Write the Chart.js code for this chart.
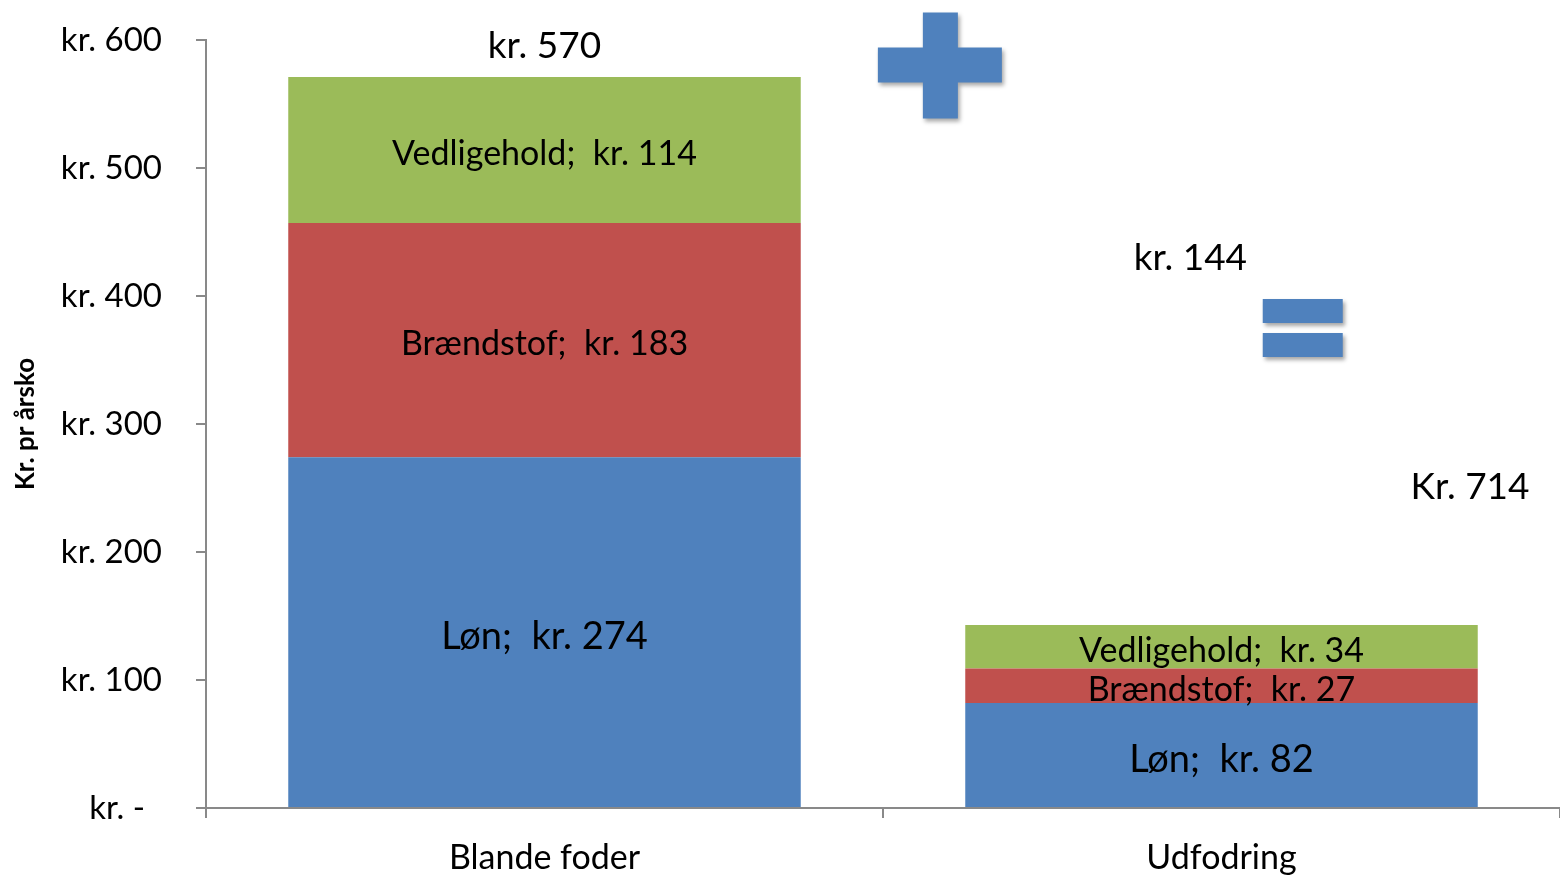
<!DOCTYPE html>
<html lang="da">
<head>
<meta charset="utf-8">
<title>Omkostninger pr årsko</title>
<script src="https://cdn.jsdelivr.net/npm/chart.js@4"></script>
<style>
    body { margin: 0; background: #fff; }
    #wrap { width: 1560px; height: 876px; }
</style>
</head>
<body>
<div id="wrap"><canvas id="grafiek" width="1560" height="876"></canvas></div>
<script>
// ===============================
// Data
// ===============================
const kategorier = ["Blande foder", "Udfodring"];
const serieNavne = ["Løn", "Brændstof", "Vedligehold"];
const loen = [274, 82];
const braendstof = [183, 27];
const vedligehold = [114, 34];
const totaler = [570, 144];
const samletTotal = 714;
const yMin = 0;
const yMax = 600;
const yStap = 100;

const kleuren = ["#4F81BD", "#C0504D", "#9BBB59"];
const asKleur = "#898989";
const lettertype = "Lato";

// vrije tekst / symbolen, geplaatst in schaal-coordinaten (x = categorie-index, y = waarde)
const plusPos = { x: 0.584, y: 580 };
const isPos = { x: 1.12, y: 375 };
const tekst144Pos = { x: 0.954, y: 430 };
const tekst714Pos = { x: 1.367, y: 251 };

// ===============================
// Plugin: labels in de balken + extra tekst
// ===============================
const labelPlugin = {
    id: "labelPlugin",
    afterDatasetsDraw(chart) {
        const ctx = chart.ctx;
        const xs = chart.scales.x;
        const ys = chart.scales.y;
        ctx.save();
        ctx.fillStyle = "#000";
        ctx.textAlign = "center";
        ctx.textBaseline = "middle";

        chart.data.datasets.forEach((ds, i) => {
            const meta = chart.getDatasetMeta(i);
            meta.data.forEach((bar, j) => {
                const p = bar.getProps(["x", "y", "base"], true);
                const grootte = i === 0 ? 38 : 34;
                ctx.font = grootte + "px " + lettertype;
                ctx.fillText(ds.label + ";  kr. " + ds.data[j], p.x, (p.y + p.base) / 2 + (i === 0 ? 5 : 4));
            });
        });

        // totaal boven eerste balk
        const top = chart.getDatasetMeta(2).data[0];
        ctx.font = "37px " + lettertype;
        ctx.fillText("kr. " + totaler[0], top.x, top.y - 31);

        // vrije teksten
        ctx.fillText("kr. " + totaler[1], xs.getPixelForValue(tekst144Pos.x), ys.getPixelForValue(tekst144Pos.y));
        ctx.fillText("Kr. " + samletTotal, xs.getPixelForValue(tekst714Pos.x), ys.getPixelForValue(tekst714Pos.y));

        // plus en is-teken met schaduw
        ctx.shadowColor = "rgba(0,0,0,0.35)";
        ctx.shadowBlur = 4;
        ctx.shadowOffsetX = 2;
        ctx.shadowOffsetY = 3;
        ctx.fillStyle = kleuren[0];

        const px = xs.getPixelForValue(plusPos.x);
        const py = ys.getPixelForValue(plusPos.y);
        ctx.beginPath();
        ctx.moveTo(px - 17, py - 53);
        ctx.lineTo(px + 18, py - 53);
        ctx.lineTo(px + 18, py - 18);
        ctx.lineTo(px + 62, py - 18);
        ctx.lineTo(px + 62, py + 17);
        ctx.lineTo(px + 18, py + 17);
        ctx.lineTo(px + 18, py + 53);
        ctx.lineTo(px - 17, py + 53);
        ctx.lineTo(px - 17, py + 17);
        ctx.lineTo(px - 62, py + 17);
        ctx.lineTo(px - 62, py - 18);
        ctx.lineTo(px - 17, py - 18);
        ctx.closePath();
        ctx.fill();

        const ix = xs.getPixelForValue(isPos.x);
        const iy = ys.getPixelForValue(isPos.y);
        ctx.fillRect(ix - 40, iy - 29, 80, 24);
        ctx.fillRect(ix - 40, iy + 5, 80, 24);

        ctx.restore();
    }
};

// ===============================
// Grafiek
// ===============================
Chart.defaults.font.family = lettertype;
Chart.defaults.color = "#000";

const reeksen = [loen, braendstof, vedligehold];

new Chart(document.getElementById("grafiek").getContext("2d"), {
    type: "bar",
    data: {
        labels: kategorier,
        datasets: serieNavne.map((naam, i) => ({
            label: naam,
            data: reeksen[i],
            backgroundColor: kleuren[i],
            borderWidth: 0,
            barPercentage: 0.757,
            categoryPercentage: 1
        }))
    },
    options: {
        responsive: false,
        animation: false,
        layout: { padding: { top: 40, right: 0, left: 0, bottom: 0 } },
        plugins: {
            legend: { display: false },
            tooltip: { enabled: false }
        },
        scales: {
            x: {
                stacked: true,
                grid: { drawOnChartArea: false, drawTicks: true, tickLength: 10, color: asKleur, lineWidth: 2 },
                border: { color: asKleur, width: 2 },
                ticks: { font: { size: 34 }, padding: 20 },
                afterFit: (s) => { s.height = 68; }
            },
            y: {
                stacked: true,
                min: yMin,
                max: yMax,
                grid: { drawOnChartArea: false, drawTicks: true, tickLength: 10, color: asKleur, lineWidth: 2 },
                border: { color: asKleur, width: 2 },
                ticks: {
                    stepSize: yStap,
                    font: { size: 33 },
                    padding: 34,
                    callback: (v) => v === 0 ? "kr. -\u00a0\u00a0" : "kr. " + v
                },
                title: {
                    display: true,
                    text: "Kr. pr årsko",
                    font: { size: 26, weight: "bold" },
                    padding: { top: 10, bottom: 0 }
                },
                afterFit: (s) => {
                    s.width = 206;
                    s.paddingTop = 0;
                    s.paddingBottom = 0;
                }
            }
        }
    },
    plugins: [labelPlugin]
});
</script>
</body>
</html>
